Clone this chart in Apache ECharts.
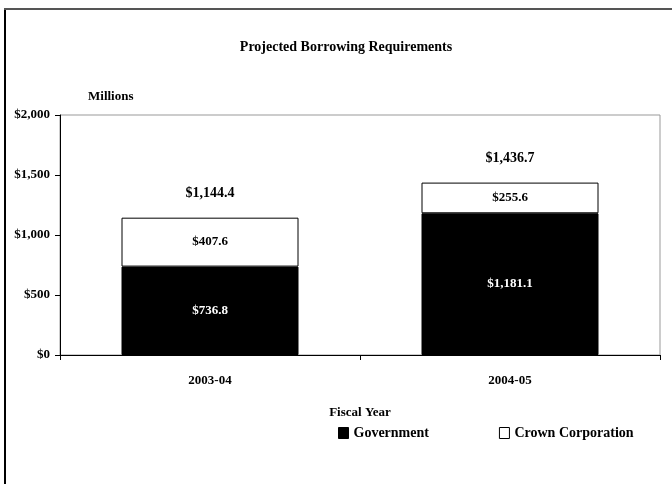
<!DOCTYPE html>
<html>
<head>
<meta charset="utf-8">
<script src="https://cdn.jsdelivr.net/npm/echarts@6/dist/echarts.min.js"></script>
<style>
html,body{margin:0;padding:0;background:#fff;}
#chart{width:672px;height:484px;}
</style>
</head>
<body>
<div id="chart"></div>
<script>
var categories = ['2003-04', '2004-05'];
var government = [736.8, 1181.1];
var crown = [407.6, 255.6];
var totals = [1144.4, 1436.7];
var yTicks = [0, 500, 1000, 1500, 2000];

var FONT = 'Liberation Serif';
function money(v) {
  var s = v.toFixed(1);
  var parts = s.split('.');
  parts[0] = parts[0].replace(/\B(?=(\d{3})+(?!\d))/g, ',');
  return '$' + parts.join('.');
}
function moneyInt(v) {
  return '$' + String(v).replace(/\B(?=(\d{3})+(?!\d))/g, ',');
}

var chart = echarts.init(document.getElementById('chart'));
chart.setOption({
  animation: false,
  backgroundColor: '#fff',
  textStyle: { fontFamily: FONT },
  title: {
    text: 'Projected Borrowing Requirements',
    left: 341, textAlign: 'center', top: 35,
    textStyle: { fontFamily: FONT, fontWeight: 'bold', fontSize: 14, color: '#000' }
  },
  graphic: [
    { type: 'line', shape: { x1: 5, y1: 9, x2: 5, y2: 484 }, style: { stroke: '#000', lineWidth: 2 } },
    { type: 'line', shape: { x1: 4, y1: 9, x2: 672, y2: 9 }, style: { stroke: '#555', lineWidth: 2 } },
    { type: 'text', left: 88, top: 90, style: { text: 'Millions', fontFamily: FONT, fontWeight: 'bold', fontSize: 13, fill: '#000' } }
  ],
  legend: {
    left: 333, top: 421,
    itemGap: 70,
    itemWidth: 10, itemHeight: 11,
    icon: 'rect',
    textStyle: { fontFamily: FONT, fontWeight: 'bold', fontSize: 14, color: '#000' },
    data: [
      { name: 'Government', itemStyle: { color: '#000', borderColor: '#000', borderWidth: 1 } },
      { name: 'Crown Corporation', itemStyle: { color: '#fff', borderColor: '#000', borderWidth: 1 } }
    ]
  },
  grid: {
    left: 60, right: 12, top: 115, bottom: 129,
    show: true, borderColor: '#999', borderWidth: 1, backgroundColor: '#fff'
  },
  xAxis: {
    type: 'category',
    data: categories,
    name: 'Fiscal Year',
    nameLocation: 'middle',
    nameGap: 51,
    nameTextStyle: { fontFamily: FONT, fontWeight: 'bold', fontSize: 13, color: '#000' },
    axisLine: { lineStyle: { color: '#000', width: 1 } },
    axisTick: { show: true, length: 5, lineStyle: { color: '#000' } },
    axisLabel: { fontFamily: FONT, fontWeight: 'bold', fontSize: 13, color: '#000', margin: 19 }
  },
  yAxis: {
    type: 'value',
    min: 0, max: 2000, interval: 500,
    axisLine: { show: true, lineStyle: { color: '#000', width: 1 } },
    axisTick: { show: true, length: 5, lineStyle: { color: '#000' } },
    splitLine: { show: false },
    axisLabel: {
      fontFamily: FONT, fontWeight: 'bold', fontSize: 13, color: '#000', margin: 10,
      formatter: function (v) { return yTicks.indexOf(v) >= 0 ? moneyInt(v) : ''; }
    }
  },
  series: [
    {
      name: 'Government', type: 'bar', stack: 'total', data: government,
      barWidth: '59%',
      itemStyle: { color: '#000', borderColor: '#000', borderWidth: 1 },
      label: {
        show: true, position: 'inside', color: '#fff',
        fontFamily: FONT, fontWeight: 'bold', fontSize: 13,
        formatter: function (p) { return money(p.value); }
      }
    },
    {
      name: 'Crown Corporation', type: 'bar', stack: 'total', data: crown,
      itemStyle: { color: '#fff', borderColor: '#000', borderWidth: 1 },
      label: {
        show: true, position: 'inside', color: '#000',
        fontFamily: FONT, fontWeight: 'bold', fontSize: 13,
        formatter: function (p) { return money(p.value); }
      }
    },
    {
      name: 'Total', type: 'scatter', data: totals,
      symbolSize: 0, itemStyle: { color: '#000', opacity: 1 },
      silent: true,
      label: {
        show: true, position: 'top', distance: 17, color: '#000', opacity: 1,
        fontFamily: FONT, fontWeight: 'bold', fontSize: 14,
        formatter: function (p) { return money(p.value); }
      }
    }
  ]
});
</script>
</body>
</html>
